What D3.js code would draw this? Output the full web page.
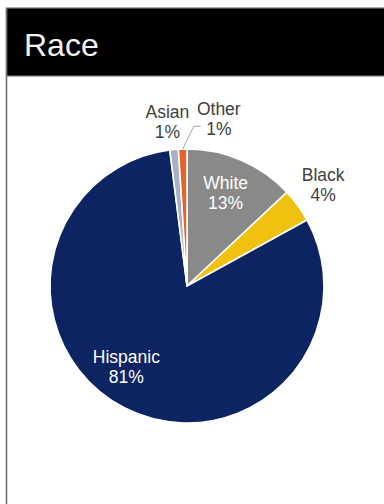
<!DOCTYPE html>
<html>
<head>
<meta charset="utf-8">
<script src="https://cdn.jsdelivr.net/npm/d3@7"></script>
<style>
  html, body { margin: 0; padding: 0; background: #fff; }
  svg { display: block; }
  text { font-family: "Liberation Sans", Arial, sans-serif; }
</style>
</head>
<body>
<svg id="chart" width="384" height="504"></svg>
<script>
const title = "Race";
const categories = ["White", "Black", "Hispanic", "Asian", "Other"];
const values = [13, 4, 81, 1, 1];
const colors = ["#898989", "#f0c20f", "#0c2462", "#a9b0c4", "#e2622a"];
const insideLabel = [true, false, true, false, false];

const svg = d3.select("#chart");
const W = 384, H = 504;

// frame
svg.append("rect").attr("x", 0).attr("y", 0).attr("width", W).attr("height", H).attr("fill", "#fff");
svg.append("rect").attr("x", 6.5).attr("y", 8).attr("width", W).attr("height", 68)
  .attr("fill", "#000").attr("stroke", "#7a7a7a").attr("stroke-width", 1.2);
svg.append("line").attr("x1", 6.5).attr("x2", 6.5).attr("y1", 8).attr("y2", H)
  .attr("stroke", "#6e6e6e").attr("stroke-width", 1.6);
svg.append("text").attr("x", 24).attr("y", 56).attr("fill", "#f4f4f4")
  .attr("font-size", 32).text(title);

const cx = 187, cy = 286, R = 137;
const g = svg.append("g").attr("transform", `translate(${cx},${cy})`);

const data = categories.map((c, i) => ({ cat: c, value: values[i], color: colors[i], inside: insideLabel[i] }));
const pie = d3.pie().sort(null).value(d => d.value).startAngle(0).endAngle(2 * Math.PI);
const arcs = pie(data);
const arc = d3.arc().innerRadius(0).outerRadius(R);

g.selectAll("path.slice").data(arcs).enter().append("path")
  .attr("class", "slice")
  .attr("d", arc)
  .attr("fill", d => d.data.color)
  .attr("stroke", "#fff").attr("stroke-width", 1.6).attr("stroke-linejoin", "round");

function labelPos(d) {
  const mid = (d.startAngle + d.endAngle) / 2;
  if (d.data.inside) {
    let a = mid;
    if (d.data.cat === "Hispanic") a = mid + 0.17;
    const r = R * (d.data.cat === "Hispanic" ? 0.74 : 0.71);
    let p = [r * Math.sin(a), -r * Math.cos(a) - 4];
    if (d.data.cat === "Hispanic") p = [p[0], p[1] + 4];
    return p;
  }
  const r = R * 1.21;
  let p = [r * Math.sin(mid), -r * Math.cos(mid)];
  if (d.data.cat === "Other") p = [p[0] + 37, p[1] - 1];
  if (d.data.cat === "Asian") p = [p[0] - 4, p[1] + 1];
  if (d.data.cat === "Black") p = [p[0] + 2, p[1] - 4];
  return p;
}

// leader line for "Other"
arcs.filter(d => d.data.cat === "Other").forEach(d => {
  const mid = (d.startAngle + d.endAngle) / 2;
  const p0 = [R * Math.sin(mid), -R * Math.cos(mid)];
  const lp = labelPos(d);
  const p1 = [lp[0] - 25, lp[1] + 7];
  const p2 = [lp[0] - 18, lp[1] + 7];
  g.append("polyline")
    .attr("points", [p0, p1, p2].map(p => p.join(",")).join(" "))
    .attr("fill", "none").attr("stroke", "#a6a6a6").attr("stroke-width", 1);
});

const labels = g.selectAll("text.lbl").data(arcs).enter().append("text")
  .attr("class", "lbl")
  .attr("text-anchor", "middle")
  .attr("font-size", 17.5)
  .attr("fill", d => d.data.inside ? "#ffffff" : "#404040")
  .attr("transform", d => `translate(${labelPos(d).join(",")})`);
labels.append("tspan").attr("x", 0).attr("y", -4).text(d => d.data.cat);
labels.append("tspan").attr("x", 0).attr("y", 16).text(d => d3.format(".0f")(d.data.value) + "%");
</script>
</body>
</html>
